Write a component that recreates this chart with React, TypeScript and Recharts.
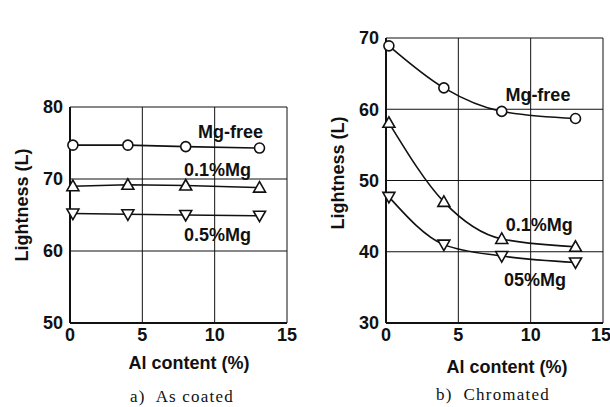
import React from 'react';
import { LineChart, Line, XAxis, YAxis, CartesianGrid, ReferenceDot } from 'recharts';

// Al content (%) where the points were measured
const alContent = [0.2, 4, 8, 13.1];

// a) As coated
const coatedMgFree = [74.7, 74.7, 74.5, 74.3];
const coated01Mg = [69.0, 69.2, 69.1, 68.8];
const coated05Mg = [65.2, 65.1, 65.0, 64.9];

// b) Chromated
const chromMgFree = [68.9, 63.0, 59.7, 58.7];
const chrom01Mg = [58.1, 47.0, 41.8, 40.7];
const chrom05Mg = [47.7, 41.0, 39.4, 38.5];

const xTicks = [0, 5, 10, 15];
const coatedTicks = [50, 60, 70, 80];
const chromTicks = [30, 40, 50, 60, 70];

const coatedData = alContent.map((al, i) => ({
  al,
  mgFree: coatedMgFree[i],
  mg01: coated01Mg[i],
  mg05: coated05Mg[i],
}));
const chromData = alContent.map((al, i) => ({
  al,
  mgFree: chromMgFree[i],
  mg01: chrom01Mg[i],
  mg05: chrom05Mg[i],
}));

const INK = '#111';
const SANS = '"Liberation Sans", Arial, sans-serif';
const tickStyle = { fill: INK, fontSize: 18, fontWeight: 700, fontFamily: SANS };

const Circle = (props: any) => {
  const { cx, cy } = props;
  if (cx == null || cy == null) return null;
  return <circle cx={cx} cy={cy} r={5} fill="#fff" stroke={INK} strokeWidth={1.6} />;
};
const TriUp = (props: any) => {
  const { cx, cy } = props;
  if (cx == null || cy == null) return null;
  return (
    <polygon
      points={`${cx},${cy - 6} ${cx - 6},${cy + 4.5} ${cx + 6},${cy + 4.5}`}
      fill="#fff"
      stroke={INK}
      strokeWidth={1.6}
    />
  );
};
const TriDown = (props: any) => {
  const { cx, cy } = props;
  if (cx == null || cy == null) return null;
  return (
    <polygon
      points={`${cx},${cy + 6} ${cx - 6},${cy - 4.5} ${cx + 6},${cy - 4.5}`}
      fill="#fff"
      stroke={INK}
      strokeWidth={1.6}
    />
  );
};

const seriesLabel = (value: string) => ({
  value,
  position: 'center' as const,
  fill: INK,
  fontSize: 18,
  fontWeight: 700,
  fontFamily: SANS,
});

function Panel({
  data,
  yTicks,
  curve,
  left,
  width,
  marginLeft,
  marginTop,
  labels,
}: {
  data: any[];
  yTicks: number[];
  curve: 'linear' | 'monotone';
  left: number;
  width: number;
  marginLeft: number;
  marginTop: number;
  labels: { x: number; y: number; text: string }[];
}) {
  const yDomain: [number, number] = [yTicks[0], yTicks[yTicks.length - 1]];
  return (
    <div style={{ position: 'absolute', left, top: 0 }}>
      <LineChart
        width={width}
        height={407}
        data={data}
        margin={{ top: marginTop, right: width - marginLeft - 40 - 217, bottom: 60, left: marginLeft }}
      >
        <CartesianGrid stroke={INK} strokeWidth={1} />
        <XAxis
          dataKey="al"
          type="number"
          domain={[0, 15]}
          ticks={xTicks}
          height={24}
          tickLine={false}
          tickSize={0}
          tickMargin={5}
          axisLine={{ stroke: INK, strokeWidth: 2 }}
          tick={tickStyle}
        />
        <XAxis
          xAxisId="top"
          orientation="top"
          dataKey="al"
          type="number"
          domain={[0, 15]}
          height={0}
          tick={false}
          tickLine={false}
          axisLine={{ stroke: INK, strokeWidth: 2 }}
        />
        <YAxis
          type="number"
          domain={yDomain}
          ticks={yTicks}
          width={40}
          tickLine={false}
          tickSize={0}
          tickMargin={7}
          axisLine={{ stroke: INK, strokeWidth: 2 }}
          tick={tickStyle}
        />
        <YAxis
          yAxisId="right"
          orientation="right"
          type="number"
          domain={yDomain}
          width={0}
          tick={false}
          tickLine={false}
          axisLine={{ stroke: INK, strokeWidth: 2 }}
        />
        <Line type={curve} dataKey="mgFree" stroke={INK} strokeWidth={1.6} dot={<Circle />} isAnimationActive={false} />
        <Line type={curve} dataKey="mg01" stroke={INK} strokeWidth={1.6} dot={<TriUp />} isAnimationActive={false} />
        <Line type={curve} dataKey="mg05" stroke={INK} strokeWidth={1.6} dot={<TriDown />} isAnimationActive={false} />
        {labels.map((l) => (
          <ReferenceDot key={l.text} x={l.x} y={l.y} r={0} stroke="none" label={seriesLabel(l.text)} />
        ))}
      </LineChart>
    </div>
  );
}

const textBase: React.CSSProperties = {
  position: 'absolute',
  whiteSpace: 'nowrap',
  color: INK,
  transform: 'translate(-50%, -50%)',
};
const axisTitle: React.CSSProperties = { ...textBase, fontFamily: SANS, fontWeight: 700, fontSize: 18 };
const caption: React.CSSProperties = {
  ...textBase,
  fontFamily: '"Liberation Serif", serif',
  fontSize: 17,
  letterSpacing: 1.2,
};

export default function App() {
  return (
    <div style={{ position: 'absolute', left: 0, top: 0, width: 610, height: 407, background: '#fff', overflow: 'hidden' }}>
      <Panel
        data={coatedData}
        yTicks={coatedTicks}
        curve="linear"
        left={0}
        width={300}
        marginLeft={30}
        marginTop={107}
        labels={[
          { x: 11.1, y: 76.6, text: 'Mg-free' },
          { x: 10.2, y: 71.3, text: '0.1%Mg' },
          { x: 10.2, y: 62.3, text: '0.5%Mg' },
        ]}
      />
      <Panel
        data={chromData}
        yTicks={chromTicks}
        curve="monotone"
        left={300}
        width={310}
        marginLeft={46}
        marginTop={38}
        labels={[
          { x: 10.5, y: 62.0, text: 'Mg-free' },
          { x: 10.6, y: 43.8, text: '0.1%Mg' },
          { x: 10.3, y: 36.1, text: '05%Mg' },
        ]}
      />
      <div style={{ ...axisTitle, left: 22, top: 205, transform: 'translate(-50%, -50%) rotate(-90deg)' }}>Lightness (L)</div>
      <div style={{ ...axisTitle, left: 338, top: 173, transform: 'translate(-50%, -50%) rotate(-90deg)' }}>Lightness (L)</div>
      <div style={{ ...axisTitle, left: 189, top: 363 }}>Al content (%)</div>
      <div style={{ ...axisTitle, left: 507, top: 367 }}>Al content (%)</div>
      <div style={{ ...caption, left: 182, top: 397 }}>a)&nbsp; As coated</div>
      <div style={{ ...caption, left: 493, top: 395 }}>b)&nbsp; Chromated</div>
    </div>
  );
}
